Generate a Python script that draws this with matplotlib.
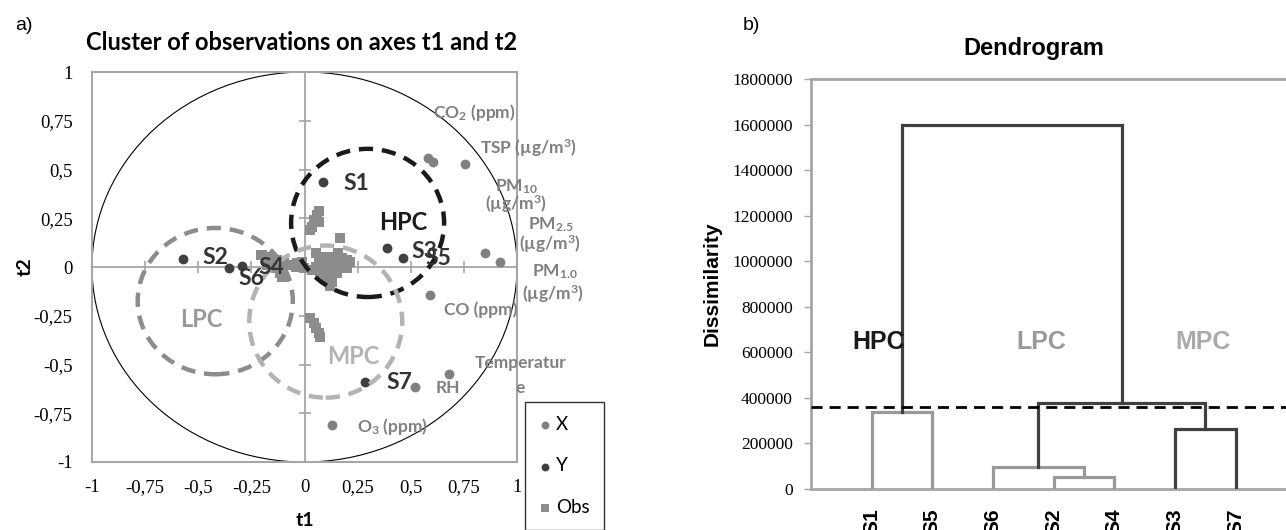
import matplotlib
matplotlib.use("Agg")
import matplotlib.pyplot as plt
from matplotlib.patches import Ellipse, Circle
import numpy as np

plt.rcParams['mathtext.default'] = 'regular'

# ---- panel a) data: variables (X), sites (Y), observations (Obs) ----
var_t1 = [0.58, 0.605, 0.755, 0.85, 0.92, 0.59, 0.68, 0.518, 0.13]
var_t2 = [0.56, 0.54, 0.53, 0.07, 0.025, -0.145, -0.55, -0.615, -0.81]

site_names = ['S1', 'S3', 'S5', 'S2', 'S6', 'S4', 'S7']
site_t1 = [0.087, 0.386, 0.465, -0.574, -0.353, -0.293, 0.287]
site_t2 = [0.437, 0.097, 0.045, 0.041, -0.005, 0.007, -0.588]

obs_t1 = [0.067, 0.060, 0.044, 0.067, 0.036, 0.028, 0.169,
          0.052, 0.157, 0.083, 0.122, 0.177, 0.201, 0.067, 0.107, 0.146, 0.185,
          0.052, 0.091, 0.130, 0.169, 0.201, 0.075, 0.114, 0.154, 0.099, 0.130,
          0.122, 0.036, 0.216, -0.034, -0.011, -0.003,
          -0.207, -0.168, -0.113, -0.097, -0.199, -0.168, -0.128, -0.097, -0.066,
          -0.042, -0.136, -0.113, -0.105, -0.176, -0.019,
          0.028, 0.044, 0.052, 0.067, 0.075]
obs_t2 = [0.289, 0.267, 0.241, 0.232, 0.207, 0.19, 0.147,
          0.073, 0.073, 0.053, 0.053, 0.044, 0.036, 0.027, 0.027, 0.022, 0.015,
          0.002, -0.007, -0.007, -0.007, -0.007, -0.032, -0.036, -0.032, -0.063, -0.075,
          -0.097, -0.015, 0.027, 0.019, 0.027, -0.007,
          0.062, 0.027, -0.032, -0.050, 0.062, 0.053, 0.036, 0.019, 0.010,
          0.002, -0.007, -0.032, -0.053, 0.010, 0.010,
          -0.263, -0.289, -0.314, -0.340, -0.357]

# clusters drawn as dashed circles: name, centre t1, centre t2, radius t1, radius t2
clusters = [('HPC', 0.297, 0.226, 0.36, 0.38),
            ('LPC', -0.42, -0.175, 0.365, 0.375),
            ('MPC', 0.10, -0.28, 0.36, 0.39)]

axis_ticks = [-1, -0.75, -0.5, -0.25, 0, 0.25, 0.5, 0.75, 1]
axis_ticklabels = ['-1', '-0,75', '-0,5', '-0,25', '0', '0,25', '0,5', '0,75', '1']

# ---- panel b) data: dendrogram ----
leaves = ['S1', 'S5', 'S6', 'S2', 'S4', 'S3', 'S7']
# merges: left node, right node, height
merges = [('S1', 'S5', 340000),
          ('S2', 'S4', 52000),
          ('S6', 'S2+S4', 96000),
          ('S3', 'S7', 263000),
          ('S6+S2+S4', 'S3+S7', 376000),
          ('S1+S5', 'S6+S2+S4+S3+S7', 1600000)]
merge_dark = [False, False, False, True, True, True]
cut_level = 358000
dendro_yticks = [0, 200000, 400000, 600000, 800000, 1000000, 1200000, 1400000, 1600000, 1800000]

W, H = 1286, 530
fig = plt.figure(figsize=(W / 100, H / 100), dpi=100)

calibri = ['Lato', 'DejaVu Sans']
arial = ['Liberation Sans', 'DejaVu Sans']
times = ['Liberation Serif', 'DejaVu Serif']
grey_axis = '#a6a6a6'
var_col = '#808080'
site_col = '#404040'

# ================= panel a =================
ax1 = fig.add_axes([92 / W, 1 - 462 / H, 425 / W, 390 / H])
ax1.set_xlim(-1, 1)
ax1.set_ylim(-1, 1)
for s in ax1.spines.values():
    s.set_color(grey_axis)
    s.set_linewidth(1.5)
ax1.set_xticks(axis_ticks)
ax1.set_xticklabels(axis_ticklabels, family=times, fontsize=13.5)
ax1.set_yticks(axis_ticks)
ax1.set_yticklabels(axis_ticklabels, family=times, fontsize=13.5)
ax1.tick_params(length=0, pad=14)
ax1.tick_params(axis='x', pad=12)

ax1.axhline(0, color=grey_axis, lw=1.3, zorder=1)
ax1.axvline(0, color=grey_axis, lw=1.3, zorder=1)
inner = [t for t in axis_ticks if abs(t) < 1 and t != 0]
ax1.plot([0] * len(inner), inner, ls='none', marker='_', ms=9, mew=1.2, color=grey_axis, zorder=1)
ax1.plot(inner, [0] * len(inner), ls='none', marker='|', ms=9, mew=1.2, color=grey_axis, zorder=1)

ax1.add_patch(Circle((0, 0), 1, fill=False, color='black', lw=0.8, zorder=2))

circ_style = {'HPC': ('#1a1a1a', 3.2), 'LPC': ('#8c8c8c', 3.2), 'MPC': ('#b3b3b3', 3.2)}
for name, cx, cy, rx, ry in clusters:
    col, lw = circ_style[name]
    ax1.add_patch(Ellipse((cx, cy), 2 * rx, 2 * ry, fill=False, edgecolor=col,
                          lw=lw, ls=(0, (3.2, 2.0)), zorder=5))

ax1.scatter(obs_t1, obs_t2, marker='s', s=55, color='#8c8c8c', lw=0, zorder=3, label='Obs')
ax1.scatter(var_t1, var_t2, marker='o', s=50, color=var_col, lw=0, zorder=4, label='X')
ax1.scatter(site_t1, site_t2, marker='o', s=50, color=site_col, lw=0, zorder=4, label='Y')

# labels of variables
vtxt = dict(color=var_col, fontsize=12.5, family=calibri, weight='bold', ha='center', va='center', zorder=6)
ax1.text(0.797, 0.79, 'CO$_2$ (ppm)', **vtxt)
ax1.text(1.054, 0.61, 'TSP (µg/m$^3$)', **vtxt)
ax1.text(1.0, 0.41, 'PM$_{10}$', **vtxt)
ax1.text(0.996, 0.32, '(µg/m$^3$)', **vtxt)
ax1.text(1.157, 0.215, 'PM$_{2.5}$', **vtxt)
ax1.text(1.157, 0.115, '(µg/m$^3$)', **vtxt)
ax1.text(1.18, -0.025, 'PM$_{1.0}$', **vtxt)
ax1.text(1.17, -0.14, '(µg/m$^3$)', **vtxt)
ax1.text(0.83, -0.22, 'CO (ppm)', **vtxt)
ax1.text(1.015, -0.49, 'Temperatur', **vtxt)
ax1.text(1.015, -0.62, 'e', **vtxt)
ax1.text(0.677, -0.62, 'RH', **vtxt)
ax1.text(0.415, -0.82, 'O$_3$ (ppm)', **vtxt)

# labels of sites
stxt = dict(color='#333333', fontsize=16.5, family=calibri, weight='bold', ha='center', va='center', zorder=6)
site_lbl = {'S1': (0.245, 0.43), 'S3': (0.563, 0.077), 'S5': (0.628, 0.045),
            'S2': (-0.42, 0.05), 'S6': (-0.25, -0.06), 'S4': (-0.155, -0.005), 'S7': (0.445, -0.59)}
for n in site_names:
    ax1.text(*site_lbl[n], n, **stxt)

ctxt = dict(fontsize=17, family=calibri, weight='bold', ha='center', va='center', zorder=6)
ax1.text(0.465, 0.23, 'HPC', color='#1a1a1a', **ctxt)
ax1.text(-0.485, -0.27, 'LPC', color='#999999', **ctxt)
ax1.text(0.23, -0.46, 'MPC', color='#b3b3b3', **ctxt)

ax1.set_xlabel('t1', family=calibri, weight='bold', fontsize=14, labelpad=12)
ax1.set_ylabel('t2', family=calibri, weight='bold', fontsize=14, labelpad=0)

leg = fig.legend(handles=[ax1.collections[1], ax1.collections[2], ax1.collections[0]],
                 labels=['X', 'Y', 'Obs'], loc='upper left', borderaxespad=0,
                 bbox_to_anchor=(525 / W, 1 - 402 / H), prop={'family': calibri, 'size': 13.5},
                 frameon=True, fancybox=False, edgecolor='black', borderpad=0.75,
                 labelspacing=1.3, handlelength=0.6, handletextpad=0.3, markerscale=0.8)
leg.get_frame().set_linewidth(1.0)

fig.text(24 / W, 1 - 25 / H, 'a)', family=arial, fontsize=14, ha='center', va='center')
fig.text(302 / W, 1 - 43 / H, 'Cluster of observations on axes t1 and t2', family=calibri,
         weight='bold', fontsize=17, ha='center', va='center')

# ================= panel b =================
ax2 = fig.add_axes([811 / W, 1 - 489 / H, (W - 811) / W, 410 / H])
ax2.set_xlim(0, 7.83)
ax2.set_ylim(0, 1800000)
for k in ['left', 'bottom', 'top']:
    ax2.spines[k].set_color(grey_axis)
    ax2.spines[k].set_linewidth(2)
ax2.spines['right'].set_visible(False)
ax2.set_yticks(dendro_yticks)
ax2.set_yticklabels([str(v) for v in dendro_yticks], family=times, fontsize=12.5)
ax2.tick_params(axis='y', length=5, width=1, color=grey_axis, pad=8)

pos = {name: i + 1 for i, name in enumerate(leaves)}
hgt = {name: 0 for name in leaves}
for (a, b, h), dark in zip(merges, merge_dark):
    col = '#404040' if dark else '#999999'
    xa, xb = pos[a], pos[b]
    ax2.plot([xa, xa, xb, xb], [hgt[a], h, h, hgt[b]], color=col, lw=2.3,
             solid_joinstyle='miter', zorder=3)
    node = a + '+' + b
    pos[node] = (xa + xb) / 2
    hgt[node] = h

ax2.axhline(cut_level, color='black', lw=2.0, ls=(0, (4, 2.5)), zorder=4)

ax2.set_xticks([pos[n] for n in leaves])
ax2.set_xticklabels(leaves, rotation=90, family=arial, weight='bold', fontsize=15, va='top')
ax2.tick_params(axis='x', length=0, pad=14)

dtxt = dict(fontsize=18, family=arial, weight='bold', ha='center', va='center', zorder=5)
ax2.text(1.12, 645000, 'HPC', color='#1a1a1a', **dtxt)
ax2.text(3.8, 645000, 'LPC', color='#999999', **dtxt)
ax2.text(6.46, 645000, 'MPC', color='#aaaaaa', **dtxt)

ax2.set_ylabel('Dissimilarity', family=arial, weight='bold', fontsize=15, labelpad=8)

fig.text(751 / W, 1 - 25 / H, 'b)', family=arial, fontsize=14, ha='center', va='center')
fig.text(1034 / W, 1 - 48 / H, 'Dendrogram', family=arial, weight='bold', fontsize=17,
         ha='center', va='center')

fig.savefig('out.png', dpi=100)
